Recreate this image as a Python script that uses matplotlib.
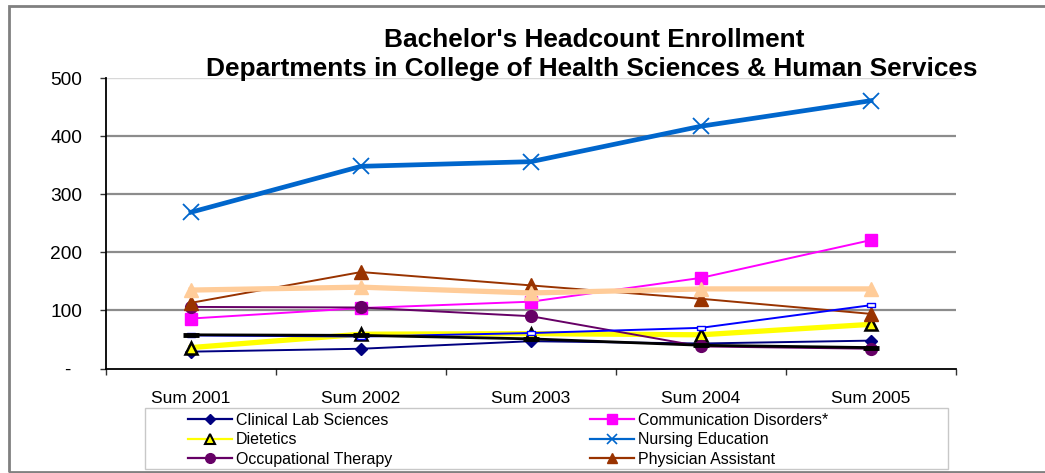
import matplotlib
matplotlib.use("Agg")
import matplotlib.pyplot as plt
from matplotlib.lines import Line2D
from matplotlib.patches import Rectangle
import numpy as np

plt.rcParams['font.family'] = ['Liberation Sans', 'DejaVu Sans']

categories = ['Sum 2001', 'Sum 2002', 'Sum 2003', 'Sum 2004', 'Sum 2005']
clinical_lab = [29, 34, 47, 43, 48]
comm_disorders = [86, 104, 115, 156, 221]
dietetics = [36, 59, 60, 58, 76]
nursing = [269, 348, 356, 417, 461]
occ_therapy = [106, 105, 90, 38, 34]
phys_assistant = [113, 166, 143, 120, 94]
other_peach = [135, 140, 130, 137, 137]
other_black = [58, 57, 51, 40, 36]
other_blue = [57, 55, 61, 70, 109]
yticks = [0, 100, 200, 300, 400, 500]
ytick_labels = ['-  ', '100', '200', '300', '400', '500']

W, H = 1045, 473
fig = plt.figure(figsize=(W / 100, H / 100), dpi=100)
ax = fig.add_axes([106 / W, 1 - 368.5 / H, 850 / W, (368.5 - 78) / H])

x = np.arange(len(categories))

ax.plot(x, clinical_lab, color='#000080', lw=1.4, marker='D', ms=6,
        mfc='#000080', mec='#000080', zorder=3)
ax.plot(x, comm_disorders, color='#FF00FF', lw=1.4, marker='s', ms=8.5,
        mfc='#FF00FF', mec='#FF00FF', zorder=3)
ax.plot(x, dietetics, color='#FFFF00', lw=3.8, marker='^', ms=9,
        mfc='#FFFF00', mec='black', mew=1.8, zorder=3)
ax.plot(x, nursing, color='#0066CC', lw=3.4, marker='x', ms=12,
        mec='#0066CC', mew=1.3, zorder=3)
ax.plot(x, occ_therapy, color='#660066', lw=1.4, marker='o', ms=8.5,
        mfc='#660066', mec='#660066', zorder=3)
ax.plot(x, phys_assistant, color='#993300', lw=1.4, marker='^', ms=9.5,
        mfc='#993300', mec='#993300', zorder=3)
ax.plot(x, other_peach, color='#FFCC99', lw=3.8, marker='^', ms=10,
        mfc='#FFCC99', mec='#FFCC99', zorder=3)
rect_marker = [(-2.2, -0.9), (2.2, -0.9), (2.2, 0.9), (-2.2, 0.9), (-2.2, -0.9)]
ax.plot(x, other_blue, color='#0000FF', lw=1.4, marker=rect_marker, ms=6,
        mfc='white', mec='#0000FF', mew=1.0, zorder=3)
ax.plot(x, other_black, color='black', lw=2.0, marker='_', ms=11,
        mew=3.5, zorder=3)

ax.set_xlim(-0.5, len(categories) - 0.5)
ax.set_ylim(0, 500)
ax.set_yticks(yticks)
ax.set_yticklabels(ytick_labels)
ax.set_xticks(np.arange(len(categories) + 1) - 0.5)
ax.set_xticklabels([])
ax.set_xticks(x, minor=True)
ax.set_xticklabels(categories, minor=True)
ax.tick_params(axis='x', which='major', length=4, width=1, direction='out', color='#333333')
ax.tick_params(axis='x', which='minor', length=0, pad=16, labelsize=12.5)
ax.tick_params(axis='y', length=4, width=1, direction='out', pad=13, labelsize=13.8, color='#333333')

ax.yaxis.grid(True, color='#8c8c8c', lw=1.6)
ax.set_axisbelow(True)
gl = ax.get_ygridlines()
gl[-1].set_color('#d8d8d8')
gl[-1].set_linewidth(1.0)
gl[0].set_visible(False)

for s in ['top', 'right']:
    ax.spines[s].set_visible(False)
for s in ['left', 'bottom']:
    ax.spines[s].set_color('black')
    ax.spines[s].set_linewidth(1.3)

fig.text(594 / W, 1 - 47 / H, "Bachelor's Headcount Enrollment", ha='center',
         va='baseline', fontsize=18.9, fontweight='bold')
fig.text(592 / W, 1 - 76 / H, "Departments in College of Health Sciences & Human Services",
         ha='center', va='baseline', fontsize=18.9, fontweight='bold')

# figure border
fig.patches.append(Rectangle((9 / W, 1 - 472 / H), 1.1, (472 - 6) / H, transform=fig.transFigure,
                             fill=False, edgecolor='#808080', lw=2, zorder=0))
# legend frame
fig.patches.append(Rectangle((145 / W, 1 - 469 / H), (948 - 145) / W, (469 - 408) / H,
                             transform=fig.transFigure, fill=False, edgecolor='#c8c8c8', lw=1,
                             zorder=0))

h_cls = Line2D([], [], color='#000080', lw=1.6, marker='D', ms=5, mfc='#000080', mec='#000080')
h_diet = Line2D([], [], color='#FFFF00', lw=1.6, marker='^', ms=6.5, mfc='#FFFF00', mec='black', mew=1.5)
h_ot = Line2D([], [], color='#660066', lw=1.6, marker='o', ms=7, mfc='#660066', mec='#660066')
h_cd = Line2D([], [], color='#FF00FF', lw=1.6, marker='s', ms=7, mfc='#FF00FF', mec='#FF00FF')
h_ne = Line2D([], [], color='#0066CC', lw=1.6, marker='x', ms=6.5, mec='#0066CC', mew=1.2)
h_pa = Line2D([], [], color='#993300', lw=1.6, marker='^', ms=7.5, mfc='#993300', mec='#993300')

leg_kw = dict(loc='upper left', frameon=False, fontsize=11.5, handlelength=2.75,
              handletextpad=0.25, labelspacing=0.3, borderpad=0, borderaxespad=0)
fig.legend([h_cls, h_diet, h_ot], ['Clinical Lab Sciences', 'Dietetics', 'Occupational Therapy'],
           bbox_to_anchor=(188 / W, 1 - 412.5 / H), **leg_kw)
fig.legend([h_cd, h_ne, h_pa], ['Communication Disorders*', 'Nursing Education', 'Physician Assistant'],
           bbox_to_anchor=(590 / W, 1 - 412.5 / H), **leg_kw)

fig.savefig('out.png', dpi=100)
